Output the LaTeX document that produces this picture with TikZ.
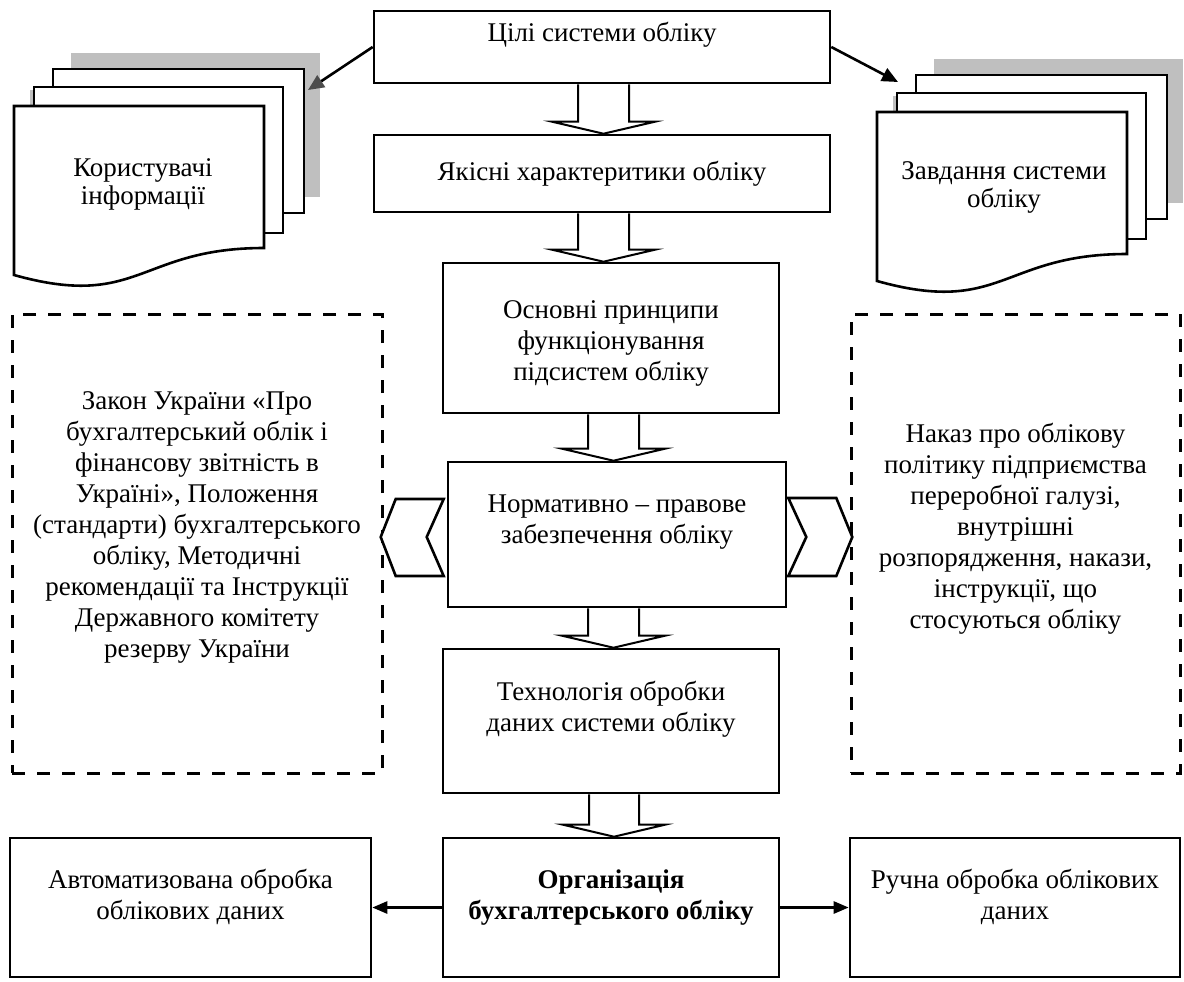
\documentclass[tikz,border=0pt]{standalone}
\usepackage{fontspec}
\setmainfont{Liberation Serif}
\usepackage{tikz}
\usetikzlibrary{arrows.meta,calc}
\tikzstyle{block}=[rectangle,
draw,
line width=1.3pt,
align=center,
inner sep=2pt,
font=\fontsize{13.5pt}{15.5pt}\selectfont]
\tikzstyle{dashblock}=[block,
line width=1.5pt,
dash pattern=on 6.5pt off 6pt]
\tikzstyle{doctext}=[align=center,
inner sep=0pt,
font=\fontsize{13.5pt}{14pt}\selectfont]
\tikzstyle{hollow}=[draw,
line width=1pt,
fill=white]
\tikzstyle{chevron}=[draw,
line width=1.3pt,
fill=white]
\tikzstyle{sheet}=[draw,
line width=1.3pt,
fill=white]
\tikzstyle{shade}=[fill=gray!50]

% stack of documents with a grey shadow, drawn at a shift
\newcommand{\docstack}[1]{%
  \begin{scope}[shift={#1}]
    \fill[shade] (71,53) rectangle (320,197);
    \fill[shade] (30,90) rectangle (34,106);
    \draw[sheet] (53,69) rectangle (304,213);
    \draw[sheet] (34,87) rectangle (283,233);
    \draw[sheet] (14,106) -- (264,106) -- (264,248)
      .. controls (139,248) and (139,310) .. (14,275) -- cycle;
  \end{scope}}

% hollow arrow between two boxes: upper, lower, left and right x of the shaft
\newcommand{\hollowarrow}[4]{%
  \draw[hollow] (#3,0 |- #1.south) -- ($(#3,0 |- #2.north)+(0,-12)$) -- ++(-26,0)
    -- ($(#3,0 |- #2.north)!0.5!(#4,0 |- #2.north)$)
    -- ($(#4,0 |- #2.north)+(26,-12)$) -- ++(-26,0) -- (#4,0 |- #1.south);}

\begin{document}
\begin{tikzpicture}[x=0.5pt,y=-0.5pt,>={Triangle[length=7.5pt,width=6pt]}]
	\useasboundingbox (0,0) rectangle (1184,981);

	% Document stacks at the top corners
	\docstack{(0,0)}
	\docstack{(863,6)}
	\node (users) [doctext] at (143,184) {Користувачі\\інформації};
	\node (tasks) [doctext] at (1004,187) {Завдання системи\\обліку};
	\coordinate (users-in) at (308,90);
	\coordinate (tasks-in) at (898,82);

	% Main column
	\node (goals) [block, minimum width=228pt, minimum height=36pt, text depth=15pt]
		at (602,47) {Цілі системи обліку};
	\node (quality) [block, minimum width=228pt, minimum height=38.5pt]
		at (602,173.5) {Якісні характеритики обліку};
	\node (principles) [block, minimum width=168pt, minimum height=75pt, text height=45pt]
		at (611,338) {Основні принципи\\функціонування\\підсистем обліку};
	\node (normative) [block, minimum width=169pt, minimum height=72.5pt, text depth=15pt]
		at (617,534.5) {Нормативно – правове\\забезпечення обліку};
	\node (technology) [block, minimum width=168pt, minimum height=72pt, text depth=14.5pt]
		at (611,721) {Технологія обробки\\даних системи обліку};
	\node (org) [block, minimum width=168pt, minimum height=69.5pt, text depth=13pt]
		at (611,907.5) {\textbf{Організація}\\\textbf{бухгалтерського обліку}};

	% Side boxes
	\node (law) [dashblock, minimum width=185pt, minimum height=229.5pt, text depth=18.5pt]
		at (197,543.5) {Закон України «Про\\бухгалтерський облік і\\фінансову звітність в\\Україні», Положення\\(стандарти) бухгалтерського\\обліку, Методичні\\рекомендації та Інструкції\\Державного комітету\\резерву України};
	\node (orders) [dashblock, minimum width=164.5pt, minimum height=229.5pt, text depth=17.5pt]
		at (1015.5,543.5) {Наказ про облікову\\політику підприємства\\переробної галузі,\\внутрішні\\розпорядження, накази,\\інструкції, що\\стосуються обліку};
	\node (auto) [block, minimum width=180.5pt, minimum height=69.5pt, text depth=13pt]
		at (190.5,907.5) {Автоматизована обробка\\облікових даних};
	\node (manual) [block, minimum width=165pt, minimum height=69.5pt, text depth=13pt]
		at (1015,907.5) {Ручна обробка облікових\\даних};

	% Hollow arrows down the column
	\hollowarrow{goals}{quality}{578}{629}
	\hollowarrow{quality}{principles}{578}{629}
	\hollowarrow{principles}{normative}{588}{639}
	\hollowarrow{normative}{technology}{588}{639}
	\hollowarrow{technology}{org}{589}{639}

	% Chevrons pointing to the side boxes
	\draw[chevron] ($(normative.west)+(-3,-35.5)$) -- ++(-48,0) -- ++(-15,38)
		-- ++(15,39) -- ++(48,0) -- ++(-17,-39) -- cycle;
	\draw[chevron] ($(normative.east)+(1,-36.5)$) -- ++(48,0) -- ++(16,39)
		-- ++(-16,39) -- ++(-48,0) -- ++(18,-39) -- cycle;

	% Plain arrows
	\draw[line width=1.3pt, -{Triangle[length=8pt,width=7pt,color=black!70]}] (goals.west) -- (users-in);
	\draw[line width=1.3pt, -{Triangle[length=8pt,width=7pt]}] (goals.east) -- (tasks-in);
	\path[->, line width=1.3pt]
	(org.west) edge (auto.east)
	(org.east) edge (manual.west);
\end{tikzpicture}
\end{document}
